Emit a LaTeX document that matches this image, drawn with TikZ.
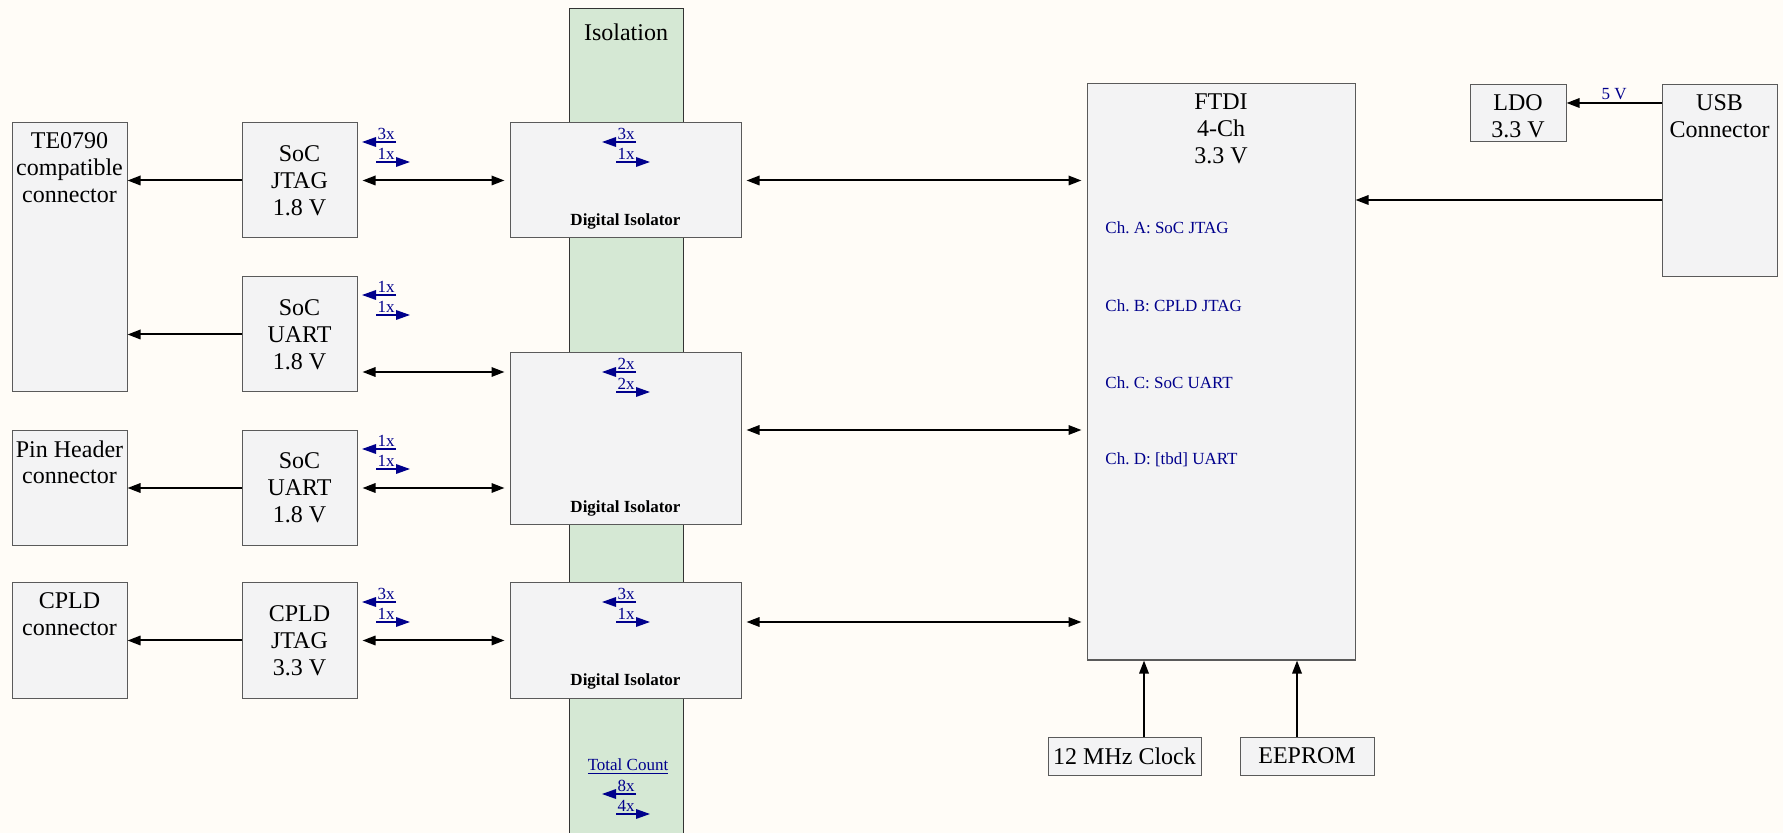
\documentclass[tikz,border=0pt]{standalone}
\usepackage{fontspec}
\setmainfont{Liberation Serif}
\usetikzlibrary{positioning,calc,arrows.meta}
\definecolor{paper}{HTML}{FFFCF7}
\definecolor{boxfill}{HTML}{F3F3F4}
\definecolor{boxline}{HTML}{5A5A5A}
\definecolor{isofill}{HTML}{D5E8D4}
\definecolor{cntblue}{HTML}{00008C}
\newcommand{\mainsize}{\fontsize{12}{13.4}\selectfont}
\newcommand{\smallsize}{\fontsize{8.5}{10}\selectfont}
\frenchspacing
% channel counts: one arrow to the left, one to the right
\newcommand{\cntpair}[4]{%
  \coordinate (#1) at (#2);
  \draw[cnt] ([xshift=5pt]#1) -- ([xshift=-12pt]#1);
  \node[cntlab,anchor=south] (#1l) at ([yshift=1pt]#1) {#3};
  \draw[cnt] ([xshift=-5pt,yshift=-10pt]#1) -- ([xshift=12pt,yshift=-10pt]#1);
  \node[cntlab,anchor=south] (#1r) at ([yshift=-9pt]#1) {#4};
}

\begin{document}
\begin{tikzpicture}[x=0.5pt,y=-0.5pt,
  box/.style={draw=boxline,fill=boxfill,line width=0.5pt,inner sep=0pt,
    minimum width=57.5pt,minimum height=57.5pt,font=\mainsize,align=center},
  toptxt/.style={font=\mainsize,align=center,inner sep=0pt,anchor=north},
  isotxt/.style={font=\smallsize\bfseries,inner sep=0pt,anchor=base},
  chlab/.style={font=\smallsize,text=cntblue,inner sep=0pt,anchor=base west},
  cntlab/.style={font=\smallsize,text=cntblue,inner sep=0pt},
  cnt/.style={draw=cntblue,line width=0.7pt,-{Triangle[length=7pt,width=4.8pt]}},
  arr/.style={line width=1pt,-{Triangle[length=6.5pt,width=4.7pt]}},
  biarr/.style={line width=1pt,{Triangle[length=6.5pt,width=4.7pt]}-{Triangle[length=6.5pt,width=4.7pt]},
    shorten <=2.5pt,shorten >=2.5pt}]
  \fill[paper] (0,0) rectangle (1783,833);
  \useasboundingbox (0,0) rectangle (1783,833);

  % isolation band
  \node[draw=black!80,fill=isofill,line width=0.5pt,inner sep=0pt,
    minimum width=57pt,minimum height=418pt] (band) at (626,427) {};
  \node[font=\mainsize] (bandlab) at (626,32) {Isolation};

  % connectors on the left
  \node[box,minimum height=134.5pt] (te) at (69.5,257.5) {};
  \node[toptxt] (tetxt) at ([yshift=-5pt]te.north) {TE0790\\compatible\\connector};
  \node[box] (pin) at (69.5,488) {};
  \node[toptxt] (pintxt) at ([yshift=-5pt]pin.north) {Pin Header\\connector};
  \node[box] (cpldc) at (69.5,640.5) {};
  \node[toptxt] (cpldctxt) at ([yshift=-5pt]cpldc.north) {CPLD\\connector};

  % interfaces
  \foreach \n/\y/\t in {jtag/180.5/{SoC\\JTAG\\1.8 V},uart1/334.5/{SoC\\UART\\1.8 V},
      uart2/488/{SoC\\UART\\1.8 V},cpldj/640.5/{CPLD\\JTAG\\3.3 V}}
    \node[box] (\n) at (299.5,\y) {\t};

  % digital isolators
  \node[box,minimum width=115.5pt] (iso1) at (625.5,180.5) {};
  \node[box,minimum width=115.5pt,minimum height=86pt] (iso2) at (625.5,439) {};
  \node[box,minimum width=115.5pt] (iso3) at (625.5,640.5) {};
  \foreach \i in {1,2,3}
    \node[isotxt] (iso\i txt) at ([yshift=6.5pt]iso\i.south) {Digital Isolator};

  % FTDI and its neighbours
  \node[box,minimum width=134pt,minimum height=288pt] (ftdi) at (1221,372) {};
  \node[toptxt] (ftditxt) at ([yshift=-5pt]ftdi.north) {FTDI\\4-Ch\\3.3 V};
  \foreach \c/\y/\t in {A/234/{SoC JTAG},B/312/{CPLD JTAG},C/389/{SoC UART},D/465/{[tbd] UART}}
    \node[chlab] (ch\c) at (1105,\y) {Ch. \c: \t};
  \node[box,minimum width=48pt,minimum height=28.5pt] (ldo) at (1518,113.5) {};
  \node[toptxt] (ldotxt) at ([yshift=-5pt]ldo.north) {LDO\\3.3 V};
  \node[box,minimum height=96pt] (usb) at (1719.5,181) {};
  \node[toptxt] (usbtxt) at ([yshift=-5pt]usb.north) {USB\\Connector};
  \node[box,minimum width=76.5pt,minimum height=19pt] (clk) at (1124.5,756) {12 MHz Clock};
  \node[box,minimum width=67pt,minimum height=19pt] (eep) at (1307,756) {EEPROM};

  % signal paths
  \draw[arr] (jtag.west) -- (jtag.west -| te.east);
  \draw[arr] (uart1.west) -- (uart1.west -| te.east);
  \draw[arr] (uart2.west) -- (pin.east);
  \draw[arr] (cpldj.west) -- (cpldc.east);
  \draw[biarr] (jtag.east) -- (iso1.west);
  \draw[biarr] (uart1.east |- 0,372) -- (iso2.west |- 0,372);
  \draw[biarr] (uart2.east) -- (uart2.east -| iso2.west);
  \draw[biarr] (cpldj.east) -- (iso3.west);
  \draw[biarr] (iso1.east) -- (iso1.east -| ftdi.west);
  \draw[biarr] (iso2.east |- 0,430) -- (ftdi.west |- 0,430);
  \draw[biarr] (iso3.east |- 0,622) -- (ftdi.west |- 0,622);
  \draw[arr] (usb.west |- 0,200) -- (ftdi.east |- 0,200);
  \draw[arr] (usb.west |- 0,103) -- node[cntlab,above=1pt] (fivev) {5 V} (ldo.east |- 0,103);
  \draw[arr] (clk.north -| 1144,0) -- (ftdi.south -| 1144,0);
  \draw[arr] (eep.north -| 1297,0) -- (ftdi.south -| 1297,0);

  % channel counts
  \cntpair{jtagc}{386,142}{3x}{1x}
  \cntpair{uart1c}{386,295}{1x}{1x}
  \cntpair{uart2c}{386,449}{1x}{1x}
  \cntpair{cpldjc}{386,602}{3x}{1x}
  \cntpair{iso1c}{626,142}{3x}{1x}
  \cntpair{iso2c}{626,372}{2x}{2x}
  \cntpair{iso3c}{626,602}{3x}{1x}
  \node[cntlab] (totlab) at (628,767) {\underline{Total Count}};
  \cntpair{totc}{626,794}{8x}{4x}
\end{tikzpicture}
\end{document}
